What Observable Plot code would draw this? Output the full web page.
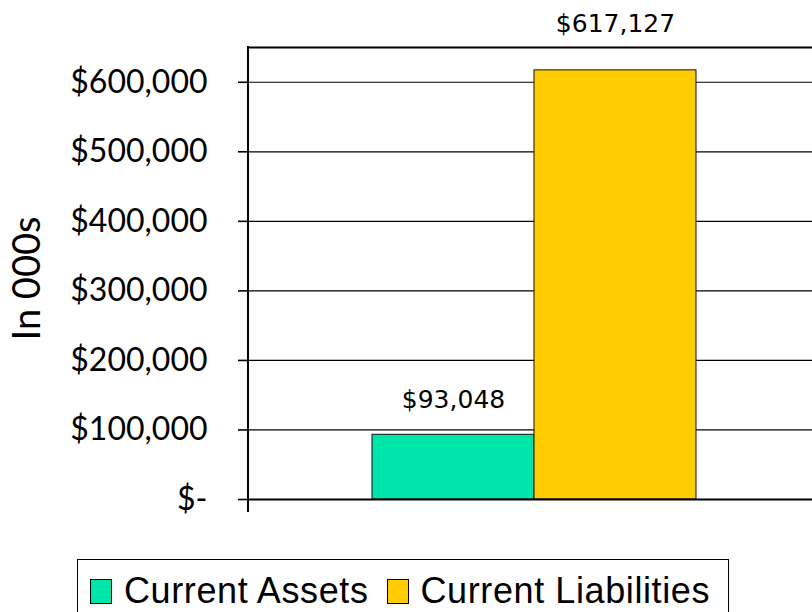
<!DOCTYPE html>
<html>
<head>
<meta charset="utf-8">
<script src="https://cdn.jsdelivr.net/npm/d3@7"></script>
<script src="https://cdn.jsdelivr.net/npm/@observablehq/plot@0.6"></script>
<style>
  html, body { margin: 0; padding: 0; background: #fff; overflow: hidden; }
  #chart svg { display: block; }
  #legend {
    margin-left: 77px; margin-top: 19px;
    width: 652px; height: 70px; box-sizing: border-box;
    border: 1.5px solid #000; padding-top: 13px; padding-left: 12px;
    display: flex; align-items: flex-start; white-space: nowrap;
    font-family: "Liberation Sans", Arial, sans-serif; font-size: 36px; line-height: 36px;
    letter-spacing: 0.6px; color: #000;
  }
  .item { display: flex; align-items: center; margin-right: 18px; flex-shrink: 0; }
  .item span { white-space: nowrap; }
  .sw { width: 20px; height: 23px; border: 1px solid #000; margin-right: 12px; flex-shrink: 0; }
</style>
</head>
<body>
<div id="chart"></div>
<div id="legend"></div>
<script>
const series = ["Current Assets", "Current Liabilities"];
const values = [93048, 617127];
const colors = ["#00E5AA", "#FFCC00"];
const yTicks = [0, 100000, 200000, 300000, 400000, 500000, 600000];
const yTop = 650000;
const axisTitle = "In 000s";

const data = series.map((s, i) => ({series: s, value: values[i]}));
const money = d3.format(",");
const tickFmt = d => d === 0 ? "$-" : "$" + money(d);
const labelFmt = d => "$" + money(d.value);

const plot = Plot.plot({
  width: 812,
  height: 540,
  marginLeft: 248,
  marginRight: 0,
  marginTop: 47,
  marginBottom: 41,
  style: {background: "#fff", color: "#000", overflow: "visible"},
  x: {domain: series, range: [248, 820], paddingInner: 0, paddingOuter: 0.755, axis: null},
  y: {domain: [0, yTop]},
  color: {domain: series, range: colors},
  marks: [
    Plot.ruleY(yTicks.filter(d => d > 0), {stroke: "#000", strokeWidth: 1.2}),
    Plot.barY(data, {x: "series", y: "value", fill: "series", stroke: "#111", strokeWidth: 1, inset: 0}),
    Plot.ruleY([0, yTop], {stroke: "#000", strokeWidth: 2}),
    Plot.axisY({ticks: yTicks, tickFormat: tickFmt, tickSize: 10, tickPadding: 31, strokeWidth: 1.6,
      fontSize: 32, fontFamily: "Lato", label: null}),
    Plot.text(data.filter((d, i) => i === 0), {x: "series", y: "value", text: labelFmt, dy: -35,
      fontSize: 25, fontFamily: "DejaVu Sans", fill: "#000"}),
    Plot.text(data.filter((d, i) => i === 1), {x: "series", y: "value", text: labelFmt, dy: -46,
      fontSize: 25, fontFamily: "DejaVu Sans", fill: "#000"}),
    Plot.text([axisTitle], {frameAnchor: "left", textAnchor: "middle", rotate: -90, dx: -221, dy: 5,
      fontSize: 38, fontFamily: "Lato", fill: "#000"})
  ]
});

// left value-axis line, extended slightly below the baseline like the category tick
const ys = plot.scale("y"), xs = plot.scale("x");
d3.select(plot).append("line")
  .attr("x1", xs.range[0]).attr("x2", xs.range[0])
  .attr("y1", ys.apply(yTop) - 1).attr("y2", ys.apply(0) + 13)
  .attr("stroke", "#000").attr("stroke-width", 2);

document.getElementById("chart").append(plot);

const legend = document.getElementById("legend");
series.forEach((s, i) => {
  const it = document.createElement("div");
  it.className = "item";
  const sw = document.createElement("div");
  sw.className = "sw";
  sw.style.background = colors[i];
  const tx = document.createElement("span");
  tx.textContent = s;
  it.append(sw, tx);
  legend.append(it);
});
</script>
</body>
</html>
